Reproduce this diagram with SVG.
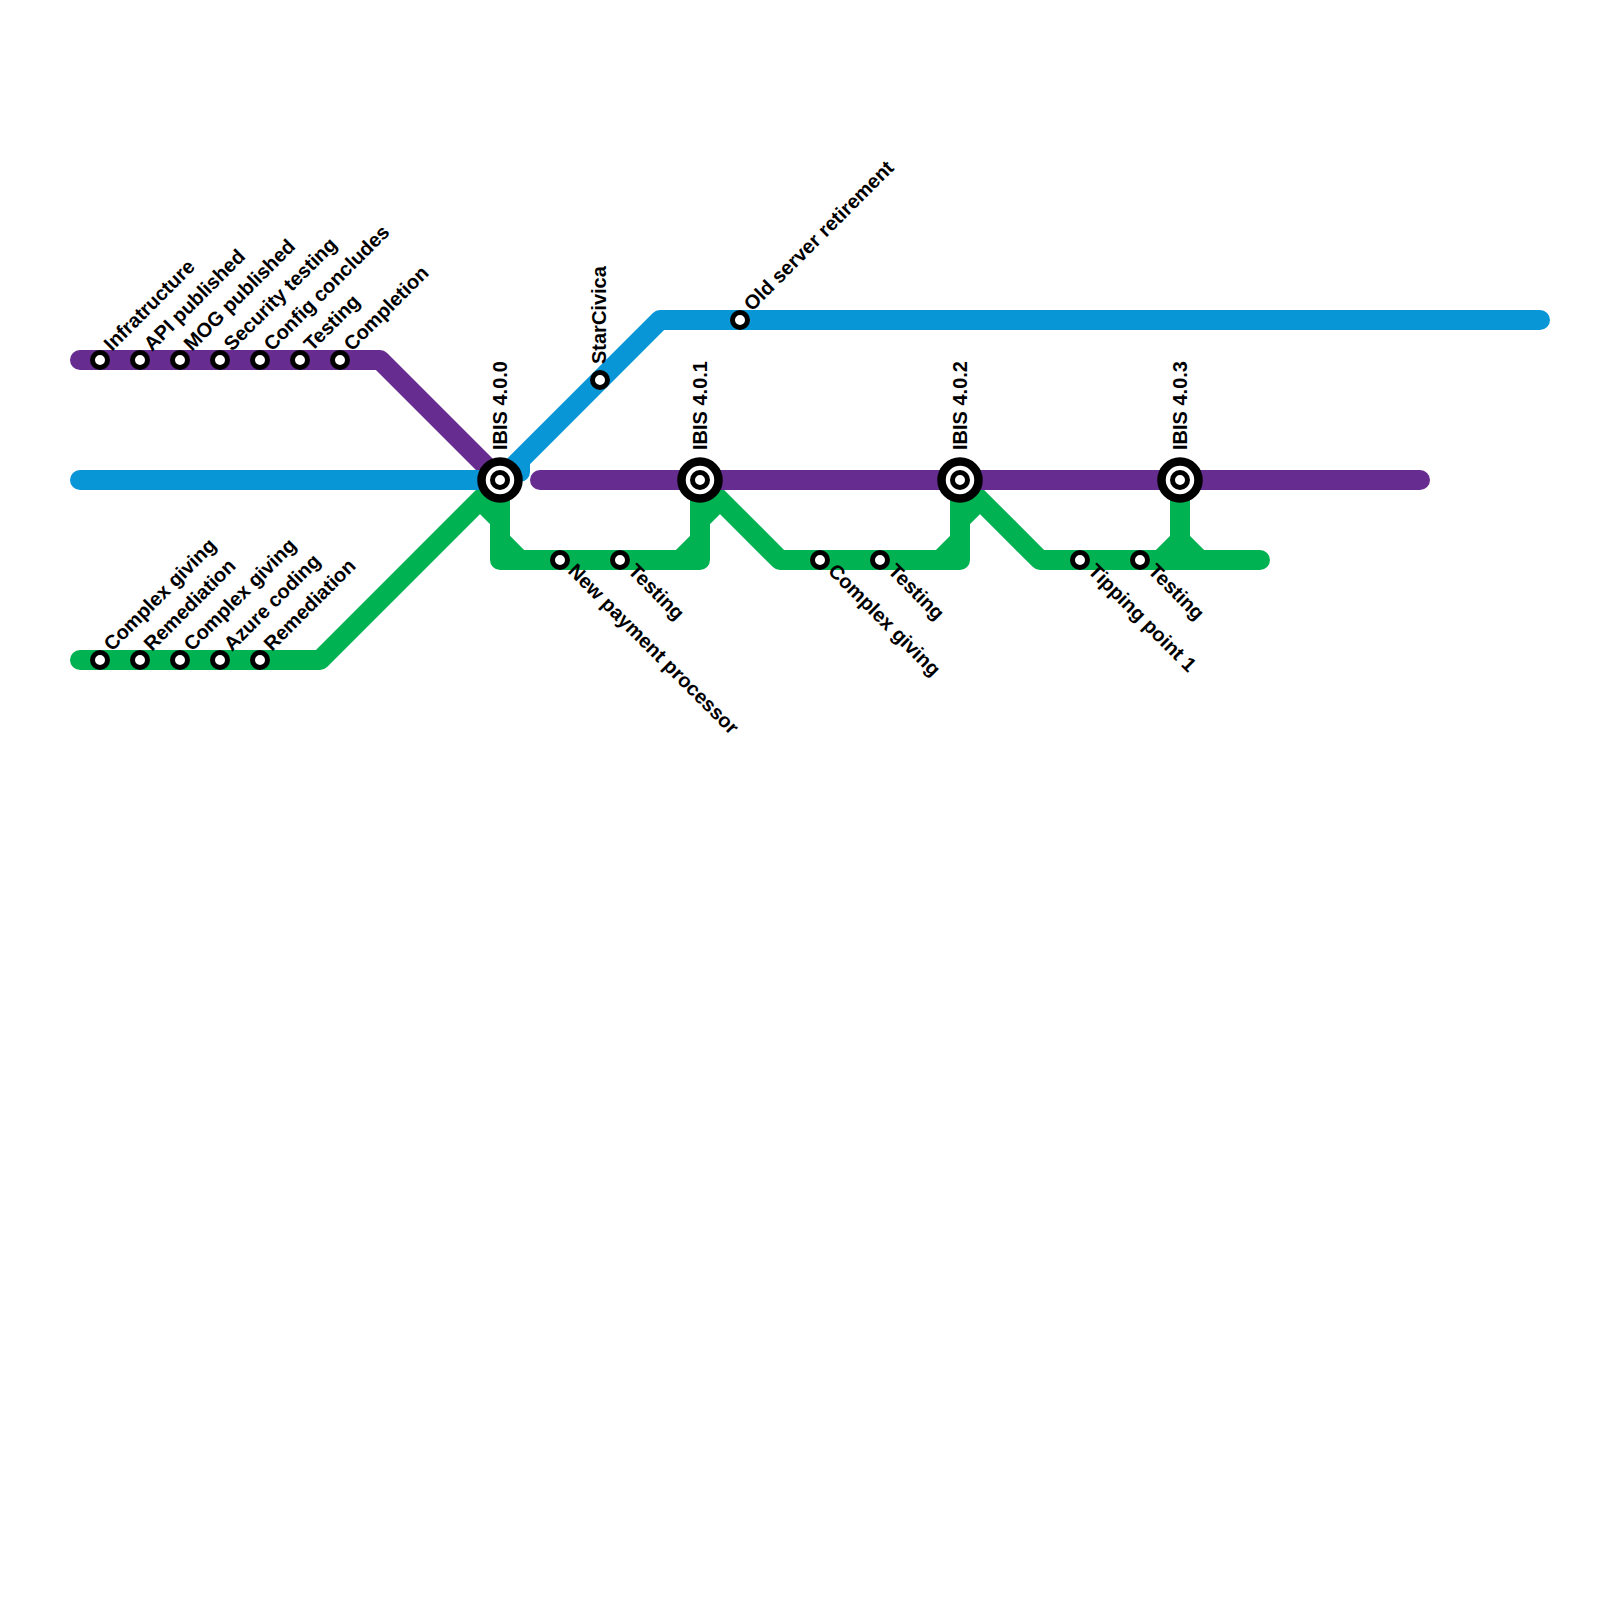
<svg xmlns="http://www.w3.org/2000/svg" width="1600" height="1600" viewBox="0 0 1600 1600">
<style>
.ln{fill:none;stroke-width:20;stroke-linecap:round;stroke-linejoin:round}
.b{stroke:#0896d7}.p{stroke:#662c90}.g{stroke:#00b251}
.st{fill:#fff;stroke:#000;stroke-width:5}
.ix{fill:#fff;stroke:#000;stroke-width:8.5}
text{font-family:"Liberation Sans",Arial,Helvetica,sans-serif;font-weight:bold;font-size:20px;fill:#000}
</style>
<rect width="1600" height="1600" fill="#fff"/>
<g id="connectors">
<path class="ln g" d="M80 660 H320 L500 480 V560 H700 V480 L780 560 H960 V480 L1040 560 H1260 M1180 480 V560 M480 500 L500 520 M500 540 L520 560 M680 560 L700 540 M700 520 L720 500 M940 560 L960 540 M960 520 L980 500 M1160 560 L1180 540 L1200 560"/>
<path class="ln p" d="M80 360 H380 L500 480 M540 480 H1420"/>
<path class="ln b" d="M80 480 H500 L660 320 H1540 M520 460 V472"/>
</g>
<g id="s-infra"><circle class="st" cx="100" cy="360" r="7.5"/><text x="112" y="352" transform="rotate(-45 112 352)">Infratructure</text></g>
<g id="s-api"><circle class="st" cx="140" cy="360" r="7.5"/><text x="152" y="352" transform="rotate(-45 152 352)">API published</text></g>
<g id="s-mog"><circle class="st" cx="180" cy="360" r="7.5"/><text x="192" y="352" transform="rotate(-45 192 352)">MOG published</text></g>
<g id="s-sec"><circle class="st" cx="220" cy="360" r="7.5"/><text x="232" y="352" transform="rotate(-45 232 352)">Security testing</text></g>
<g id="s-config"><circle class="st" cx="260" cy="360" r="7.5"/><text x="272" y="352" transform="rotate(-45 272 352)">Config concludes</text></g>
<g id="s-ptest"><circle class="st" cx="300" cy="360" r="7.5"/><text x="312" y="352" transform="rotate(-45 312 352)">Testing</text></g>
<g id="s-compl"><circle class="st" cx="340" cy="360" r="7.5"/><text x="352" y="352" transform="rotate(-45 352 352)">Completion</text></g>
<g id="s-cg1"><circle class="st" cx="100" cy="660" r="7.5"/><text x="112" y="652" transform="rotate(-45 112 652)">Complex giving</text></g>
<g id="s-rem1"><circle class="st" cx="140" cy="660" r="7.5"/><text x="152" y="652" transform="rotate(-45 152 652)">Remediation</text></g>
<g id="s-cg2"><circle class="st" cx="180" cy="660" r="7.5"/><text x="192" y="652" transform="rotate(-45 192 652)">Complex giving</text></g>
<g id="s-azure"><circle class="st" cx="220" cy="660" r="7.5"/><text x="232" y="652" transform="rotate(-45 232 652)">Azure coding</text></g>
<g id="s-rem2"><circle class="st" cx="260" cy="660" r="7.5"/><text x="272" y="652" transform="rotate(-45 272 652)">Remediation</text></g>
<g id="s-npp"><circle class="st" cx="560" cy="560" r="7.5"/><text x="567" y="572" transform="rotate(45 567 572)">New payment processor</text></g>
<g id="s-gt1"><circle class="st" cx="620" cy="560" r="7.5"/><text x="627" y="572" transform="rotate(45 627 572)">Testing</text></g>
<g id="s-cg3"><circle class="st" cx="820" cy="560" r="7.5"/><text x="827" y="572" transform="rotate(45 827 572)">Complex giving</text></g>
<g id="s-gt2"><circle class="st" cx="880" cy="560" r="7.5"/><text x="887" y="572" transform="rotate(45 887 572)">Testing</text></g>
<g id="s-tip"><circle class="st" cx="1080" cy="560" r="7.5"/><text x="1087" y="572" transform="rotate(45 1087 572)">Tipping point 1</text></g>
<g id="s-gt3"><circle class="st" cx="1140" cy="560" r="7.5"/><text x="1147" y="572" transform="rotate(45 1147 572)">Testing</text></g>
<g id="s-star"><circle class="st" cx="600" cy="380" r="7.5"/><text x="606" y="364" transform="rotate(-90 606 364)">StarCivica</text></g>
<g id="s-old"><circle class="st" cx="740" cy="320" r="7.5"/><text x="752" y="312" transform="rotate(-45 752 312)">Old server retirement</text></g>
<g id="s-ibis400"><circle class="ix" cx="500" cy="480" r="18.5"/><circle class="st" cx="500" cy="480" r="7.5"/><text x="507" y="450" transform="rotate(-90 507 450)">IBIS 4.0.0</text></g>
<g id="s-ibis401"><circle class="ix" cx="700" cy="480" r="18.5"/><circle class="st" cx="700" cy="480" r="7.5"/><text x="707" y="450" transform="rotate(-90 707 450)">IBIS 4.0.1</text></g>
<g id="s-ibis402"><circle class="ix" cx="960" cy="480" r="18.5"/><circle class="st" cx="960" cy="480" r="7.5"/><text x="967" y="450" transform="rotate(-90 967 450)">IBIS 4.0.2</text></g>
<g id="s-ibis403"><circle class="ix" cx="1180" cy="480" r="18.5"/><circle class="st" cx="1180" cy="480" r="7.5"/><text x="1187" y="450" transform="rotate(-90 1187 450)">IBIS 4.0.3</text></g>
</svg>
